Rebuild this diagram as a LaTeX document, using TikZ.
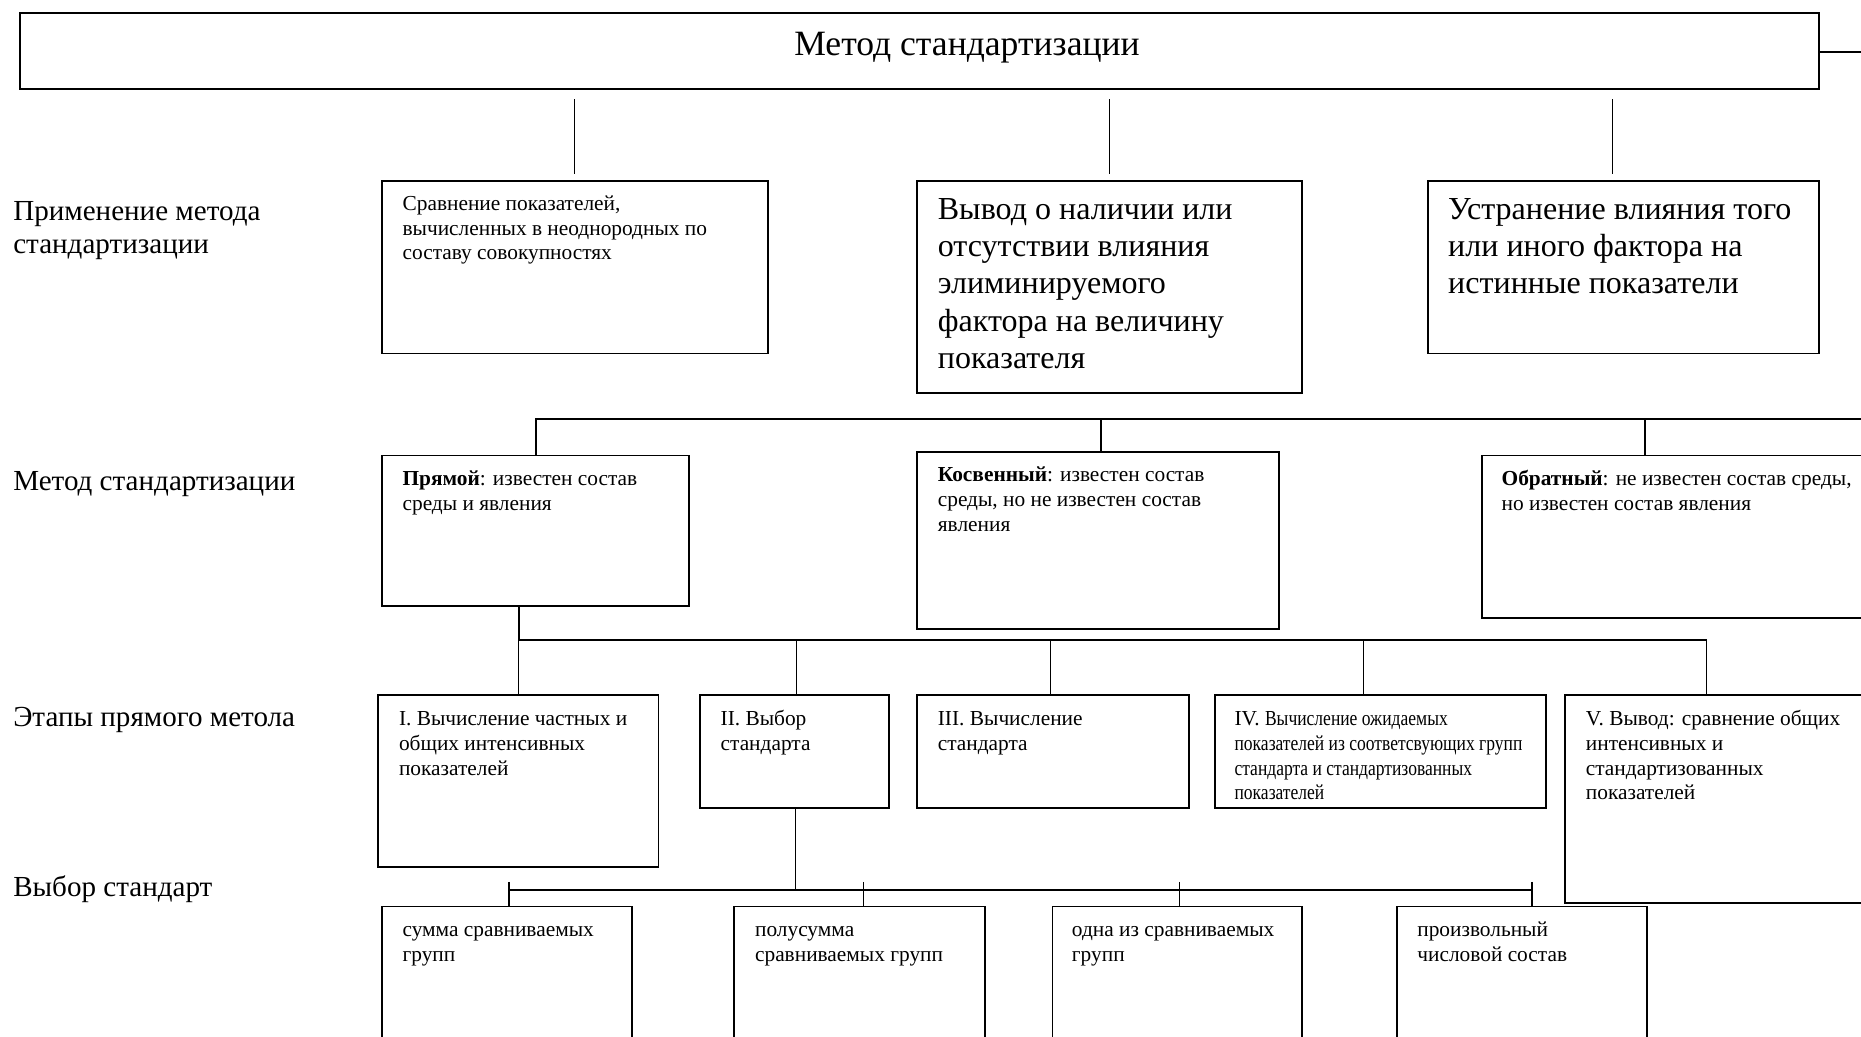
\documentclass[tikz,border=0pt]{standalone}
\usepackage{fontspec}
\setmainfont{Liberation Serif}
\newfontfamily\narrowserif[FakeStretch=0.82]{Liberation Serif}
\newcommand\szS{\fontsize{18}{21}\selectfont}
\newcommand\szB{\fontsize{27}{31.3}\selectfont}
\newcommand\szL{\fontsize{24.5}{28}\selectfont}
\newcommand\szT{\fontsize{30}{36}\selectfont}
\newcommand\lns[1]{\begin{tabular}[t]{@{}l@{}}#1\end{tabular}}
\begin{document}
\begin{tikzpicture}[x=1pt,y=-1pt,
 bx/.style={draw, line width=1.6pt, inner sep=0pt, anchor=north west},
 tx/.style={anchor=base west, inner sep=0pt},
 thin/.style={line width=1pt},
 bus/.style={line width=1.6pt}]
\useasboundingbox (0,0) rectangle (1568,873);
% boxes
\node[bx, minimum width=1516pt, minimum height=64pt] (top) at (16,10) {};
\node[bx, minimum width=325pt, minimum height=145pt] (a1) at (321,152) {};
\node[bx, minimum width=324pt, minimum height=178pt] (a2) at (772,152) {};
\node[bx, minimum width=330pt, minimum height=145pt] (a3) at (1202,152) {};
\node[bx, minimum width=259pt, minimum height=127pt] (b1) at (321,383) {};
\node[bx, minimum width=305pt, minimum height=149pt] (b2) at (772,380) {};
\node[bx, minimum width=352pt, minimum height=137pt] (b3) at (1248,383) {};
\node[bx, minimum width=236pt, minimum height=145pt] (s1) at (318,585) {};
\node[bx, minimum width=159pt, minimum height=95pt] (s2) at (589,585) {};
\node[bx, minimum width=229pt, minimum height=95pt] (s3) at (772,585) {};
\node[bx, minimum width=279pt, minimum height=95pt] (s4) at (1023,585) {};
\node[bx, minimum width=282pt, minimum height=175pt] (s5) at (1318,585) {};
\node[bx, minimum width=211pt, minimum height=140pt] (c1) at (321,763) {};
\node[bx, minimum width=211pt, minimum height=140pt] (c2) at (618,763) {};
\node[bx, minimum width=210pt, minimum height=140pt] (c3) at (886,763) {};
\node[bx, minimum width=211pt, minimum height=140pt] (c4) at (1176,763) {};
% texts
\node[tx] (ttl) at (669,47) {\szT Метод стандартизации};
\node[tx] (l1) at (11,186) {\szL\lns{Применение метода\\стандартизации}};
\node[tx] (l2) at (11,413) {\szL Метод стандартизации};
\node[tx] (l3) at (11,612) {\szL Этапы прямого метола};
\node[tx] (l4) at (11,755) {\szL Выбор стандарт};
\node[tx] (ta1) at (339,177) {\szS\lns{Сравнение показателей,\\вычисленных в неоднородных по\\составу совокупностях}};
\node[tx] (ta2) at (790,185) {\szB\lns{Вывод о наличии или\\отсутствии влияния\\элиминируемого\\фактора на величину\\показателя}};
\node[tx] (ta3) at (1220,185) {\szB\lns{Устранение влияния того\\или иного фактора на\\истинные показатели}};
\node[tx] (tb1) at (339,409) {\szS\lns{\textbf{Прямой}: известен состав\\среды и явления}};
\node[tx] (tb2) at (790,406) {\szS\lns{\textbf{Косвенный}: известен состав\\среды, но не известен состав\\явления}};
\node[tx] (tb3) at (1265,409) {\szS\lns{\textbf{Обратный}: не известен состав среды,\\но известен состав явления}};
\node[tx] (ts1) at (336,611) {\szS\lns{I. Вычисление частных и\\общих интенсивных\\показателей}};
\node[tx] (ts2) at (607,611) {\szS\lns{II. Выбор\\стандарта}};
\node[tx] (ts3) at (790,611) {\szS\lns{III. Вычисление\\стандарта}};
\node[tx] (ts4) at (1040,611) {\szS\lns{IV. {\narrowserif Вычисление ожидаемых}\\{\narrowserif показателей из соответсвующих групп}\\{\narrowserif стандарта и стандартизованных}\\{\narrowserif показателей}}};
\node[tx] (ts5) at (1336,611) {\szS\lns{V. Вывод: сравнение общих\\интенсивных и\\стандартизованных\\показателей}};
\node[tx] (tc1) at (339,789) {\szS\lns{сумма сравниваемых\\групп}};
\node[tx] (tc2) at (636,789) {\szS\lns{полусумма\\сравниваемых групп}};
\node[tx] (tc3) at (903,789) {\szS\lns{одна из сравниваемых\\групп}};
\node[tx] (tc4) at (1194,789) {\szS\lns{произвольный\\числовой состав}};
% connectors: top level
\coordinate (stub) at (1575,44);
\draw[bus] (top.east |- stub) -- (stub);
\coordinate (a3t) at ([xshift=-9pt]a3.north);
\draw[thin] ([yshift=-8pt]top.south -| a1.north) -- ([yshift=5pt]a1.north);
\draw[thin] ([yshift=-8pt]top.south -| a2.north) -- ([yshift=5pt]a2.north);
\draw[thin] ([yshift=-8pt]top.south -| a3t) -- ([yshift=5pt]a3t);
% bus 1
\coordinate (bus1R) at (1575,353);
\coordinate (b2t) at ([xshift=2pt]b2.north);
\coordinate (b3t) at ([xshift=138pt]b3.north west);
\draw[bus] (b1.north) |- (bus1R);
\draw[bus] (b2t |- bus1R) -- (b2t);
\draw[bus] (b3t |- bus1R) -- (b3t);
% bus 2
\coordinate (bus2L) at (437,539);
\coordinate (bus2R) at (1438,539);
\coordinate (s2t) at ([xshift=1.5pt]s2.north);
\coordinate (s3t) at ([xshift=-2.5pt]s3.north);
\coordinate (s4t) at ([xshift=-14.5pt]s4.north);
\draw[bus] (bus2L |- b1.south) -- (bus2L) -- (bus2R);
\draw[thin] (bus2L) -- (bus2L |- s1.north);
\draw[thin] (s2t |- bus2L) -- (s2t);
\draw[thin] (s3t |- bus2L) -- (s3t);
\draw[thin] (s4t |- bus2L) -- (s4t);
\draw[thin] (bus2R) -- (bus2R |- s5.north);
% bus 3
\coordinate (j3) at (670,750);
\coordinate (c1t) at ([xshift=1.5pt]c1.north);
\coordinate (c2t) at ([xshift=3.5pt]c2.north);
\coordinate (c3t) at ([xshift=2pt]c3.north);
\coordinate (c4t) at ([xshift=8.5pt]c4.north);
\draw[thin] (j3 |- s2.south) -- (j3);
\draw[bus] (c1t |- j3) -- (c4t |- j3);
\draw[thin] ([yshift=20pt]c1t) -- (c1t);
\draw[thin] ([yshift=20pt]c2t) -- (c2t);
\draw[thin] ([yshift=20pt]c3t) -- (c3t);
\draw[thin] ([yshift=20pt]c4t) -- (c4t);
\end{tikzpicture}
\end{document}
